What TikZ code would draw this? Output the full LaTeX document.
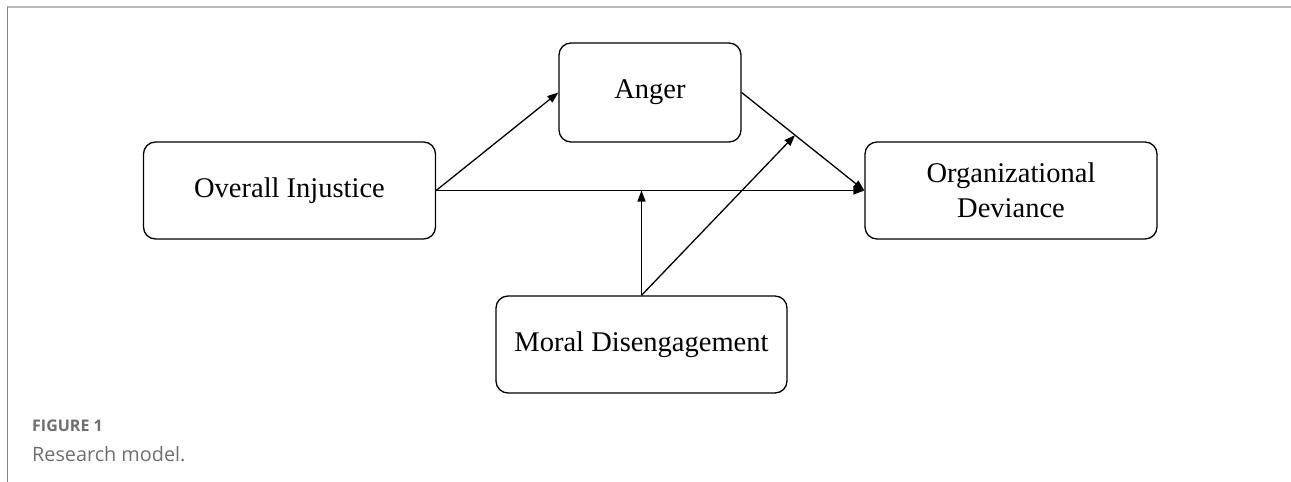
\documentclass[tikz,border=0pt]{standalone}
\usepackage{fontspec}
\setmainfont{Liberation Serif}
\newfontfamily\capfont{Open Sans}
\usetikzlibrary{arrows.meta,calc}
\definecolor{frameA}{RGB}{185,185,185}
\definecolor{frameB}{RGB}{130,130,130}
\definecolor{capgray}{RGB}{110,110,110}
\begin{document}
\begin{tikzpicture}[x=1pt,y=-1pt,
  box/.style={draw, line width=1.3pt, rounded corners=12pt, inner sep=0pt, align=center,
    font=\fontsize{28.5}{35}\selectfont},
  arr/.style={line width=1.3pt, -{Triangle[length=11pt,width=8pt]}},
  captext/.style={anchor=base west, inner sep=0pt, text=capgray}]
\useasboundingbox (0,0) rectangle (1291,482);
\draw[line width=1.6pt, frameA] (7,7) -- (1291,7);
\draw[line width=1.6pt, frameB] (7.3,7) -- (7.3,482);
\node[box, minimum width=182pt, minimum height=99pt] (anger) at (650,92.5) {Anger};
\node[box, minimum width=292pt, minimum height=97pt] (oi) at (289.5,190.5) {Overall Injustice};
\node[box, minimum width=292pt, minimum height=97pt] (od) at (1011,190.5) {Organizational\\Deviance};
\node[box, minimum width=291pt, minimum height=97pt] (md) at (641.5,344.5) {Moral Disengagement};
\coordinate (mid) at ($(anger.east)!0.435!(od.west)$);
\coordinate (hz) at (md.north |- oi.east);
\draw[arr] (oi.east) -- (anger.west);
\draw[arr] (oi.east) -- (od.west);
\draw[arr] (anger.east) -- (od.west);
\draw[arr] (md.north) -- (hz);
\draw[arr] (md.north) -- (mid);
\node[captext, font=\capfont\bfseries\fontsize{16}{19}\selectfont] (fig) at (32,431.7) {FIGURE 1};
\node[captext, font=\capfont\fontsize{19.8}{24}\selectfont] (capt) at (32,461.7) {Research model.};
\end{tikzpicture}
\end{document}
